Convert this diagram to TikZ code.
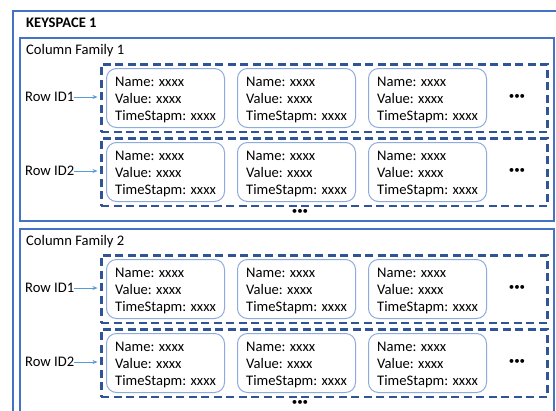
\documentclass[tikz,border=0pt]{standalone}
\usepackage{fontspec}
\setmainfont{Carlito}
\usetikzlibrary{arrows.meta}
\definecolor{boxblue}{HTML}{4472C4}
\definecolor{dashblue}{HTML}{2F5597}
\definecolor{cellblue}{HTML}{8FAADC}
\definecolor{arrowblue}{HTML}{5B9BD5}
\begin{document}
\begin{tikzpicture}[x=1pt,y=-1pt,
  every node/.style={font=\fontsize{14.6}{17}\selectfont},
  keybox/.style={draw=boxblue, line width=2pt, rectangle, inner sep=0, anchor=north west, minimum width=560pt, minimum height=430pt},
  famibox/.style={draw=boxblue, line width=2pt, rectangle, inner sep=0, anchor=north west, minimum width=534pt, minimum height=183pt},
  rowbox/.style={draw=dashblue, line width=2.6pt, dash pattern=on 8pt off 4.5pt, rectangle, inner sep=0, anchor=north west, minimum width=446pt, minimum height=67.5pt},
  cell/.style={draw=cellblue, line width=1pt, rounded corners=10pt, minimum height=59pt, minimum width=118pt, anchor=north west, inner sep=0pt},
  celltext/.style={anchor=west, inner sep=0pt, align=left},
  lbl/.style={anchor=west, inner sep=0},
  dots/.style={inner sep=0, font=\fontsize{11}{13}\selectfont},
  arr/.style={draw=arrowblue, line width=0.7pt, -{Stealth[length=5pt,width=4pt]}, shorten >=2.5pt},
]
\useasboundingbox (0,0) rectangle (556,410);
\fill[white] (0,0) rectangle (556,410);
\node[keybox] (ks) at (12,10) {};
\node[lbl, font=\fontsize{14.6}{17}\selectfont\bfseries] (kslabel) at (26,23) {KEYSPACE 1};
\foreach \c/\off in {1/0,2/191}{
  \node[famibox] (cf\c) at (19,37+\off) {};
  \node[lbl] (cf\c label) at (26,51+\off) {Column Family \c};
  \foreach \r/\rt/\ct in {1/63/68,2/137/142}{
    \node[rowbox] (row\c\r) at (100,\rt+\off) {};
    \node[lbl] (rid\c\r) at (25,\rt+34+\off) {Row ID\r};
    \draw[arr] (rid\c\r.east) -- (row\c\r.west |- rid\c\r.east);
    \foreach \k/\cx in {1/106,2/237,3/368}{
      \node[cell] (cell\c\r\k) at (\cx,\ct+\off) {};
      \node[celltext] (txt\c\r\k) at ([xshift=9pt,yshift=-2pt]cell\c\r\k.west) {Name: xxxx\\Value: xxxx\\TimeStapm: xxxx};
    }
    \node[dots] (rdots\c\r) at (517,\rt+34+\off) {•••};
  }
  \node[dots] (fdots\c) at (300,212+\off) {•••};
}
\end{tikzpicture}
\end{document}
